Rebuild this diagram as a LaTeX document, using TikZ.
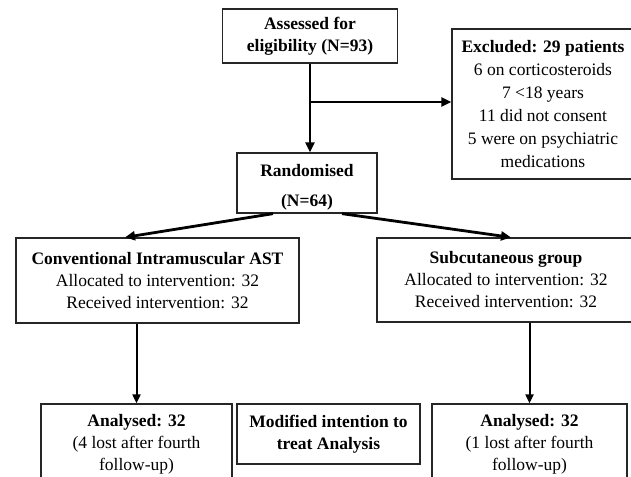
\documentclass[tikz,border=0pt]{standalone}
\usepackage{fontspec}
\setmainfont{Liberation Serif}
\usetikzlibrary{arrows.meta}

\tikzset{
  box/.style={draw=black!85, line width=1.3pt, align=center, inner sep=0pt,
    font=\fontsize{17.5}{22}\selectfont},
  mainarrow/.style={line width=2.8pt, -{Triangle[length=10pt,width=9pt]}},
  thinarrow/.style={line width=2pt, -{Triangle[length=9pt,width=8pt]}},
}

\begin{document}
\begin{tikzpicture}[x=1pt,y=-1pt]
    \useasboundingbox (0,0) rectangle (631,476);
    \clip (0,0) rectangle (631,476);

    % Define nodes for the screening stage
    \node[box, minimum width=175pt, minimum height=54pt] (assess) at (310,36)
        {\textbf{Assessed for}\\\textbf{eligibility (N=93)}};
    \node[box, minimum width=182pt, minimum height=150pt] (excl) at (543,104)
        {\textbf{Excluded: 29 patients}\\[1pt]6 on corticosteroids\\[1pt]7 <18 years\\[1pt]11 did not consent\\[1pt]5 were on psychiatric\\[1pt]medications};
    \node[box, minimum width=140pt, minimum height=60pt] (rand) at (307,183)
        {\rule{0pt}{20pt}\textbf{Randomised}\\[8pt]\textbf{(N=64)}};

    % Define nodes for the two groups
    \node[box, minimum width=283pt, minimum height=85pt] (conv) at (157.5,280.5)
        {\textbf{Conventional Intramuscular AST}\\Allocated to intervention: 32\\Received intervention: 32};
    \node[box, minimum width=258pt, minimum height=84pt] (subc) at (506,280)
        {\textbf{Subcutaneous group}\\Allocated to intervention: 32\\Received intervention: 32};

    % Define nodes for the analysis
    \node[box, minimum width=191pt, minimum height=80pt] (ana1) at (136.5,444)
        {\textbf{Analysed: 32}\\(4 lost after fourth\\follow-up)};
    \node[box, minimum width=183pt, minimum height=60pt] (mod) at (328.5,434)
        {\textbf{Modified intention to}\\\textbf{treat Analysis}};
    \node[box, minimum width=195pt, minimum height=80pt] (ana2) at (529.5,444)
        {\textbf{Analysed: 32}\\(1 lost after fourth\\follow-up)};

    % Screening arrows
    \coordinate (split) at (310,102);
    \draw[mainarrow] (assess.south) -- (assess.south |- rand.north);
    \draw[mainarrow] (split) -- (split -| excl.west);

    % Randomisation into the groups
    \draw[mainarrow] ([xshift=-34pt]rand.south) -- ([xshift=-32.5pt]conv.north);
    \draw[mainarrow] ([xshift=35pt]rand.south) -- ([xshift=5pt]subc.north);

    % Groups to analysis
    \foreach \grp/\ana in {conv/ana1, subc/ana2} {
        \draw[thinarrow] (\ana.north |- \grp.south) -- (\ana.north);
    }
\end{tikzpicture}
\end{document}
